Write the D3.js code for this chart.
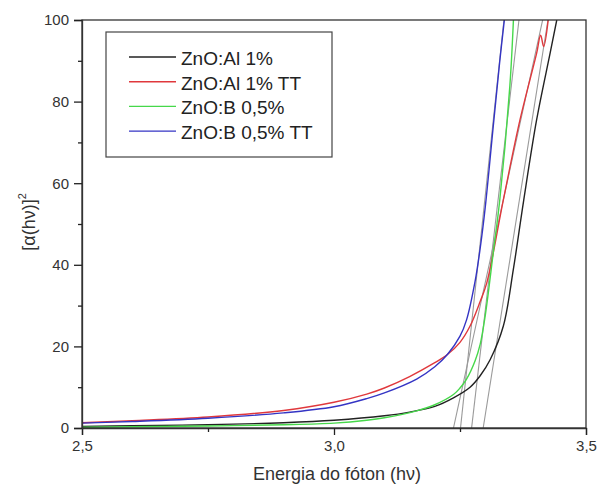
<!DOCTYPE html>
<html>
<head>
<meta charset="utf-8">
<script src="https://cdn.jsdelivr.net/npm/d3@7"></script>
<style>
  body { margin: 0; background: #fff; }
  svg { font-family: "Liberation Sans", Arial, sans-serif; }
</style>
</head>
<body>
<div id="chart"></div>
<script>
// data: energy (eV) vs [alpha(hv)]^2
var seriesNames = ["ZnO:Al 1%", "ZnO:Al 1% TT", "ZnO:B 0,5%", "ZnO:B 0,5% TT"];
var seriesColors = ["#222222", "#e0383c", "#46d84a", "#3434c4"];

var alX   = [2.5, 2.6, 2.75, 2.9, 3.0, 3.1, 3.15, 3.2, 3.237, 3.27, 3.29, 3.31, 3.336, 3.356, 3.376, 3.402, 3.429, 3.442];
var alY   = [0.4, 0.55, 0.8, 1.3, 1.9, 3.0, 3.9, 5.3, 7.4, 10.0, 12.8, 16.8, 25.0, 39.0, 55.5, 75.5, 92.0, 100];

var alTtX = [2.5, 2.6, 2.75, 2.9, 3.0, 3.065, 3.1, 3.15, 3.2, 3.225, 3.25, 3.27, 3.29, 3.303, 3.336, 3.369, 3.402, 3.41, 3.416, 3.425];
var alTtY = [1.3, 1.8, 2.7, 4.3, 6.3, 8.3, 9.8, 12.6, 16.0, 18.0, 21.0, 25.0, 31.0, 35.5, 55.9, 75.5, 91.8, 96.3, 93.5, 100];

var bX    = [2.5, 2.6, 2.75, 2.9, 3.0, 3.065, 3.1, 3.164, 3.2, 3.237, 3.25, 3.263, 3.28, 3.29, 3.30, 3.316, 3.329, 3.349, 3.356];
var bY    = [0.2, 0.3, 0.5, 0.8, 1.2, 1.9, 2.5, 4.2, 5.7, 8.2, 9.8, 12.0, 16.5, 20.5, 27.5, 43.0, 56.0, 84.0, 100];

var bTtX  = [2.5, 2.6, 2.75, 2.9, 3.0, 3.065, 3.1, 3.164, 3.2, 3.225, 3.25, 3.263, 3.28, 3.29, 3.30, 3.316, 3.329, 3.338];
var bTtY  = [1.2, 1.6, 2.4, 3.7, 5.2, 7.2, 8.6, 12.0, 15.0, 18.0, 22.5, 26.5, 36.0, 44.0, 54.0, 74.0, 90.0, 100];

// linear fits used to read the band gap (x-intercept, slope)
var fitIntercepts = [3.296, 3.237, 3.273, 3.251];
var fitSlopes     = [778, 565, 1064, 1160];

var xTicks = [2.5, 3.0, 3.5];
var xMinorTicks = [2.75, 3.25];
var yTicks = [0, 20, 40, 60, 80, 100];
var yMinorTicks = [10, 30, 50, 70, 90];

var width = 597, height = 488;
var margin = {left: 82, right: 11, top: 20, bottom: 60};

var svg = d3.select("#chart").append("svg")
    .attr("width", width).attr("height", height);

var x = d3.scaleLinear().domain([2.5, 3.5]).range([margin.left, width - margin.right]);
var y = d3.scaleLinear().domain([0, 100]).range([height - margin.bottom, margin.top]);

svg.append("clipPath").attr("id", "plotClip")
  .append("rect")
    .attr("x", x(2.5)).attr("y", y(100))
    .attr("width", x(3.5) - x(2.5)).attr("height", y(0) - y(100));

var plot = svg.append("g").attr("clip-path", "url(#plotClip)");

// fit lines (grey)
fitIntercepts.forEach(function (x0, i) {
    var x1 = x0 + 100 / fitSlopes[i];
    plot.append("line")
        .attr("x1", x(x0)).attr("y1", y(0))
        .attr("x2", x(x1)).attr("y2", y(100))
        .attr("stroke", "#9a9a9a").attr("stroke-width", 1.1);
});

var allX = [alX, alTtX, bX, bTtX];
var allY = [alY, alTtY, bY, bTtY];

var line = d3.line()
    .x(function (d) { return x(d[0]); })
    .y(function (d) { return y(d[1]); })
    .curve(d3.curveCatmullRom.alpha(0.5));

allX.forEach(function (xs, i) {
    var pts = xs.map(function (v, j) { return [v, allY[i][j]]; });
    plot.append("path")
        .datum(pts)
        .attr("d", line)
        .attr("fill", "none")
        .attr("stroke", seriesColors[i])
        .attr("stroke-width", 1.4);
});

// frame
svg.append("rect")
    .attr("x", x(2.5)).attr("y", y(100))
    .attr("width", x(3.5) - x(2.5)).attr("height", y(0) - y(100))
    .attr("fill", "none").attr("stroke", "#333").attr("stroke-width", 1.3);

// axes
svg.append("g")
    .attr("transform", "translate(0," + y(0) + ")")
    .call(d3.axisBottom(x).tickValues(xTicks).tickSize(7).tickPadding(5)
        .tickFormat(function (d) { return d3.format(".1f")(d).replace(".", ","); }));
svg.append("g")
    .attr("transform", "translate(0," + y(0) + ")")
    .call(d3.axisBottom(x).tickValues(xMinorTicks).tickSize(4).tickFormat(""))
    .select(".domain").remove();

svg.append("g")
    .attr("transform", "translate(" + x(2.5) + ",0)")
    .call(d3.axisLeft(y).tickValues(yTicks).tickSize(8).tickPadding(5));
svg.append("g")
    .attr("transform", "translate(" + x(2.5) + ",0)")
    .call(d3.axisLeft(y).tickValues(yMinorTicks).tickSize(4).tickFormat(""))
    .select(".domain").remove();

svg.selectAll(".tick line").attr("stroke", "#222").attr("stroke-width", 1.3);
svg.selectAll(".domain").attr("stroke", "#333").attr("stroke-width", 1.3);
svg.selectAll(".tick text")
    .attr("font-size", 15)
    .attr("font-family", "'Liberation Sans', Arial, sans-serif")
    .attr("fill", "#333");

// axis titles
svg.append("text")
    .attr("x", 337).attr("y", 480)
    .attr("text-anchor", "middle")
    .attr("font-size", 18).attr("fill", "#333")
    .text("Energia do fóton (hν)");

var yTitle = svg.append("text")
    .attr("transform", "translate(35,222) rotate(-90)")
    .attr("text-anchor", "middle")
    .attr("font-size", 18).attr("fill", "#333");
yTitle.append("tspan").text("[α(hν)]");
yTitle.append("tspan").attr("font-size", 11).attr("dy", -9).text("2");

// legend
var legend = svg.append("g");
legend.append("rect")
    .attr("x", 106).attr("y", 32).attr("width", 226).attr("height", 125)
    .attr("fill", "#fff").attr("stroke", "#444").attr("stroke-width", 1.2);

seriesNames.forEach(function (name, i) {
    var ly = 57 + i * 24.7;
    legend.append("line")
        .attr("x1", 129).attr("x2", 176).attr("y1", ly).attr("y2", ly)
        .attr("stroke", seriesColors[i]).attr("stroke-width", 1.4);
    legend.append("text")
        .attr("x", 181).attr("y", ly + 8)
        .attr("font-size", 19).attr("fill", "#222")
        .text(name);
});
</script>
</body>
</html>
